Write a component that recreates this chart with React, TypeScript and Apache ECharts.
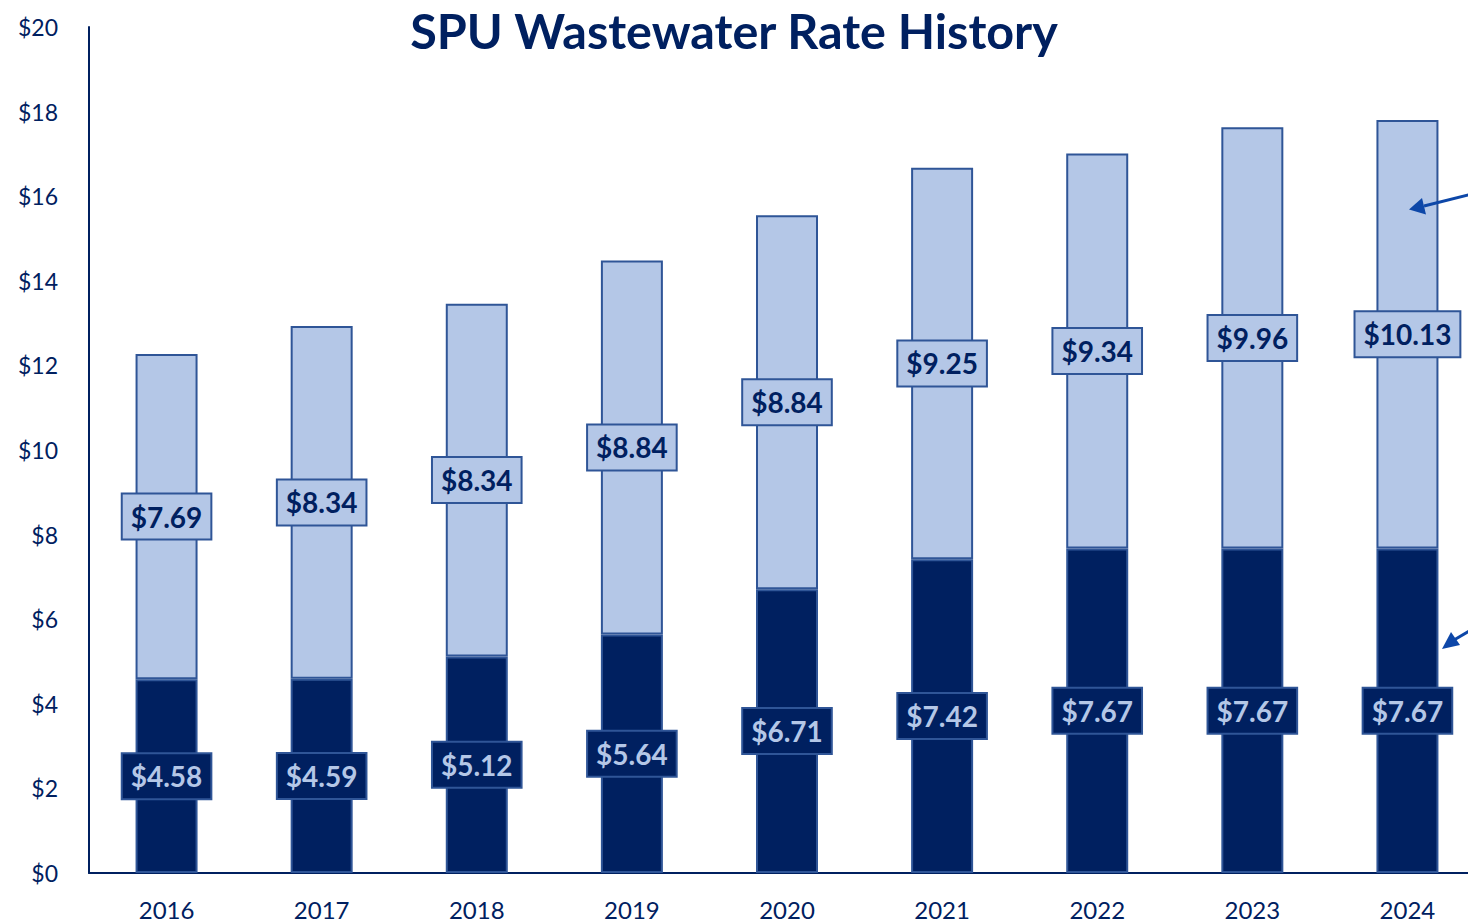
import React, { useEffect, useRef } from "react";
import * as echarts from "echarts";

const years = ["2016", "2017", "2018", "2019", "2020", "2021", "2022", "2023", "2024"];
const baseRates = [4.58, 4.59, 5.12, 5.64, 6.71, 7.42, 7.67, 7.67, 7.67];
const addedRates = [7.69, 8.34, 8.34, 8.84, 8.84, 9.25, 9.34, 9.96, 10.13];
const yTicks = { min: 0, max: 20, interval: 2 };

const NAVY = "#002060";
const LIGHT = "#b4c7e7";
const EDGE = "#2f5597";
const ARROW = "#0d47a8";
const FONT = "Lato, 'Open Sans', sans-serif";

export default function App() {
  const ref = useRef<HTMLDivElement>(null);
  useEffect(() => {
    if (!ref.current) return;
    const chart = echarts.init(ref.current, null, { renderer: "svg" });
    const label = (bg: string, color: string) => ({
      show: true,
      position: "inside",
      formatter: (p: any) => "$" + Number(p.value).toFixed(2),
      fontFamily: FONT,
      fontWeight: "bold",
      fontSize: 28,
      color,
      backgroundColor: bg,
      borderColor: EDGE,
      borderWidth: 2,
      padding: [9, 8, 7, 8],
    });
    chart.setOption({
      animation: false,
      title: {
        text: "SPU Wastewater Rate History",
        left: "center",
        top: 0,
        textStyle: { fontFamily: FONT, fontWeight: "bold", fontSize: 48.5, color: NAVY },
      },
      grid: { left: 89, top: 27, bottom: 49, right: -17, containLabel: false, outerBoundsMode: "none" },
      xAxis: {
        type: "category",
        data: years,
        axisLine: { lineStyle: { color: NAVY, width: 2 } },
        axisTick: { show: false },
        axisLabel: { fontFamily: FONT, fontSize: 24, color: NAVY, margin: 24 },
      },
      yAxis: {
        type: "value",
        min: yTicks.min,
        max: yTicks.max,
        interval: yTicks.interval,
        axisLine: { show: true, lineStyle: { color: NAVY, width: 2 } },
        axisTick: { show: false },
        splitLine: { show: false },
        axisLabel: {
          fontFamily: FONT,
          fontSize: 23,
          color: NAVY,
          margin: 31,
          formatter: (v: number) => "$" + v,
        },
      },
      series: [
        {
          type: "bar",
          stack: "rate",
          data: baseRates,
          barWidth: 62,
          itemStyle: { color: NAVY, borderColor: EDGE, borderWidth: 2 },
          label: label(NAVY, LIGHT),
        },
        {
          type: "bar",
          stack: "rate",
          data: addedRates,
          barWidth: 62,
          itemStyle: { color: LIGHT, borderColor: EDGE, borderWidth: 2 },
          label: label(LIGHT, NAVY),
        },
      ],
      graphic: [
        {
          type: "group",
          z: 100,
          zlevel: 1,
          children: [
            {
              type: "line",
              z: 100,
              shape: { x1: 1470, y1: 194.5, x2: 1424, y2: 206 },
              style: { stroke: ARROW, lineWidth: 3 },
            },
            {
              type: "polygon",
              z: 100,
              shape: { points: [[1409, 209.5], [1426, 214.5], [1422, 198]] },
              style: { fill: ARROW },
            },
            {
              type: "line",
              z: 100,
              shape: { x1: 1470, y1: 630.5, x2: 1454, y2: 640 },
              style: { stroke: ARROW, lineWidth: 3 },
            },
            {
              type: "polygon",
              z: 100,
              shape: { points: [[1442, 649], [1460, 645], [1451, 632]] },
              style: { fill: ARROW },
            },
          ],
        },
      ],
    });
    return () => chart.dispose();
  }, []);
  return (
    <div
      ref={ref}
      style={{ position: "absolute", left: 0, top: 0, width: 1468, height: 922, background: "#fff" }}
    />
  );
}
